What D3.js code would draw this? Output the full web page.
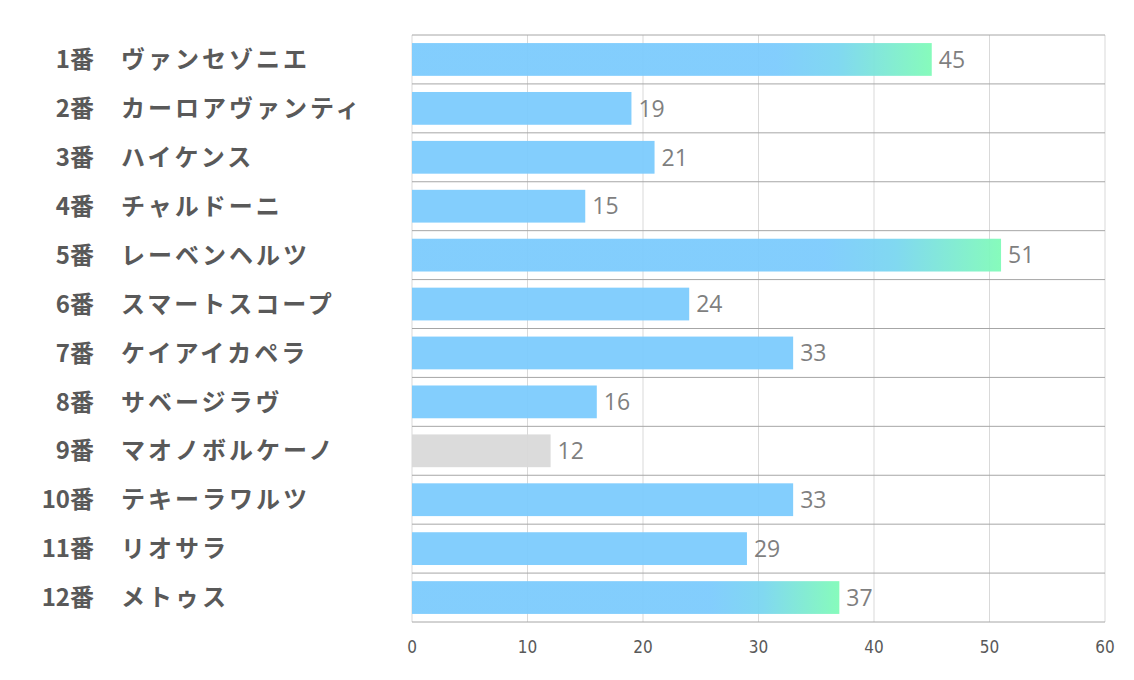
<!DOCTYPE html>
<html>
<head>
<meta charset="utf-8">
<script src="https://cdn.jsdelivr.net/npm/d3@7"></script>
<style>
  body { margin: 0; background: #fff; }
  svg { display: block; }
</style>
</head>
<body>
<div id="chart"></div>
<script>
const numbers = ['1番', '2番', '3番', '4番', '5番', '6番', '7番', '8番', '9番', '10番', '11番', '12番'];
const names = ['ヴァンセゾニエ', 'カーロアヴァンティ', 'ハイケンス', 'チャルドーニ', 'レーベンヘルツ',
  'スマートスコープ', 'ケイアイカペラ', 'サベージラヴ', 'マオノボルケーノ', 'テキーラワルツ', 'リオサラ', 'メトゥス'];
const values = [45, 19, 21, 15, 51, 24, 33, 16, 12, 33, 29, 37];
const ticks = [0, 10, 20, 30, 40, 50, 60];

const width = 1134;
const height = 680;
const margin = { top: 35, right: 29, bottom: 58, left: 412 };

const svg = d3.select('#chart').append('svg')
  .attr('width', width)
  .attr('height', height);

const x = d3.scaleLinear().domain([0, 60]).range([margin.left, width - margin.right]);
const y = d3.scaleBand().domain(d3.range(values.length))
  .range([margin.top, height - margin.bottom])
  .paddingInner(0.33).paddingOuter(0.165);

// top 3 get a gradient, lowest gets gray
const sorted = values.slice().sort((a, b) => b - a);
const minVal = d3.min(values);

const defs = svg.append('defs');
const grad = defs.append('linearGradient')
  .attr('id', 'topGrad')
  .attr('x1', '0').attr('x2', '1').attr('y1', '0').attr('y2', '0');
grad.append('stop').attr('offset', '0.7').attr('stop-color', '#7ccbfd');
grad.append('stop').attr('offset', '0.82').attr('stop-color', '#7ad6f0');
grad.append('stop').attr('offset', '1').attr('stop-color', '#80fbb8');

// vertical grid
svg.append('g')
  .selectAll('line')
  .data(ticks)
  .join('line')
  .attr('x1', d => x(d)).attr('x2', d => x(d))
  .attr('y1', margin.top).attr('y2', height - margin.bottom)
  .attr('stroke', '#d9d9d9')
  .attr('stroke-width', 1);

// horizontal row separators
const bounds = d3.range(values.length + 1).map(i => margin.top + i * (height - margin.top - margin.bottom) / values.length);
svg.append('g')
  .selectAll('line')
  .data(bounds)
  .join('line')
  .attr('x1', x(0)).attr('x2', x(60))
  .attr('y1', d => d).attr('y2', d => d)
  .attr('stroke', '#a6a6a6')
  .attr('stroke-width', 1);

// bars
svg.append('g')
  .selectAll('rect')
  .data(values)
  .join('rect')
  .attr('x', x(0))
  .attr('y', (d, i) => y(i))
  .attr('width', d => x(d) - x(0))
  .attr('height', y.bandwidth())
  .attr('fill', d => {
    if (d === minVal) return '#d9d9d9';
    if (d >= sorted[2]) return 'url(#topGrad)';
    return '#7ccbfd';
  })
  .attr('fill-opacity', 0.95);

// value labels
svg.append('g')
  .selectAll('text')
  .data(values)
  .join('text')
  .attr('x', d => x(d) + 7)
  .attr('y', (d, i) => y(i) + y.bandwidth() / 2)
  .attr('dy', '0.36em')
  .attr('fill', '#7f7f7f')
  .style('font-family', '"Open Sans", "Noto Sans", sans-serif')
  .style('font-size', '23px')
  .text(d => d);

// category labels
const labels = svg.append('g')
  .style('font-family', '"Noto Sans CJK JP", sans-serif')
  .style('font-size', '24px')
  .style('font-weight', 'bold')
  .attr('fill', '#595959');

labels.selectAll('text.num')
  .data(numbers)
  .join('text')
  .attr('class', 'num')
  .attr('x', 94)
  .attr('y', (d, i) => y(i) + y.bandwidth() / 2)
  .attr('dy', '0.36em')
  .attr('text-anchor', 'end')
  .text(d => d);

labels.selectAll('text.name')
  .data(names)
  .join('text')
  .attr('class', 'name')
  .attr('x', 121)
  .attr('y', (d, i) => y(i) + y.bandwidth() / 2)
  .attr('dy', '0.36em')
  .style('letter-spacing', '3px')
  .text(d => d);

// x axis labels
svg.append('g')
  .selectAll('text')
  .data(ticks)
  .join('text')
  .attr('x', d => x(d))
  .attr('y', height - 33)
  .attr('dy', '0.35em')
  .attr('text-anchor', 'middle')
  .attr('fill', '#595959')
  .style('font-family', '"DejaVu Sans Condensed", "Liberation Sans Narrow", sans-serif')
  .style('font-size', '17px')
  .text(d => d);
</script>
</body>
</html>
